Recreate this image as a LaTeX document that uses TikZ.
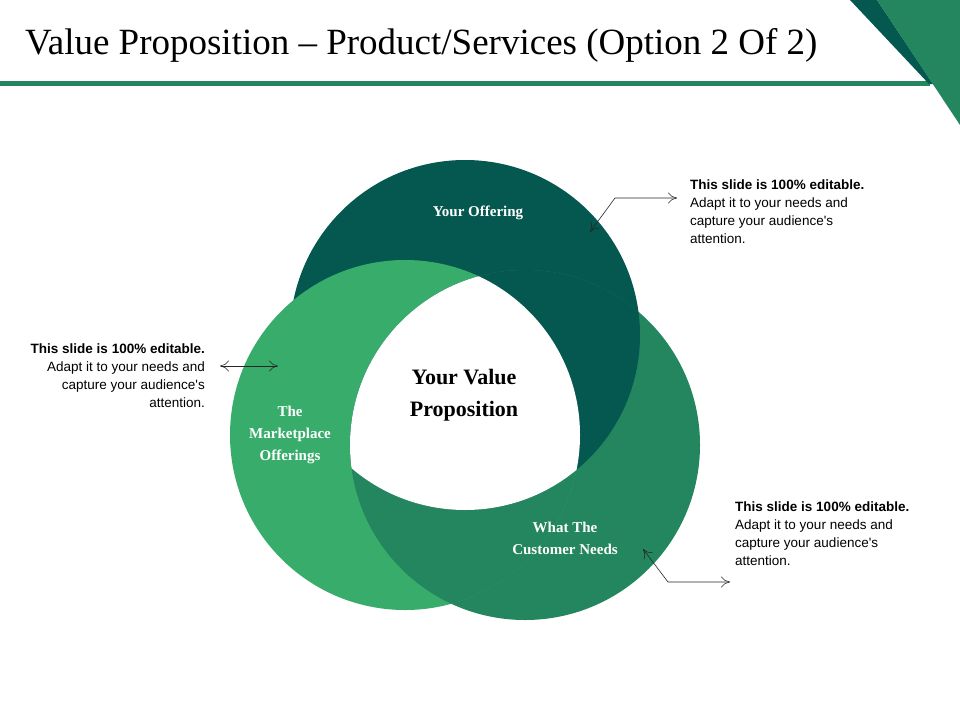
\documentclass[tikz,border=0pt]{standalone}
\usepackage{fontspec}
\setmainfont{Liberation Serif}
\newfontfamily\calloutfont{Liberation Sans}
\usetikzlibrary{arrows.meta}
\definecolor{ringdark}{RGB}{5,88,80}
\definecolor{ringmid}{RGB}{36,134,94}
\definecolor{ringlight}{RGB}{56,173,107}
\tikzset{
  ringlabel/.style={text=white,font=\bfseries\fontsize{15}{22}\selectfont,align=center},
  callout/.style={font=\calloutfont\fontsize{13.5}{18}\selectfont,inner sep=0pt},
  pointer/.style={gray!30!black,line width=0.6pt,{To[length=9pt,width=11pt]}-{To[length=9pt,width=11pt]}}
}
\begin{document}
\begin{tikzpicture}[x=1pt,y=-1pt]
		\useasboundingbox (0,0) rectangle (960,720);
		% Header
		\node[anchor=west,inner sep=0pt,font=\fontsize{37}{40}\selectfont] (title) at (25,45) {Value Proposition -- Product/Services (Option 2 Of 2)};
		\fill[ringmid] (0,81) rectangle (930,86);
		\fill[ringdark] (850,0) -- (877,0) -- (933,84) -- (929,84) -- cycle;
		\fill[ringmid] (877,0) -- (960,0) -- (960,125) -- cycle;
		% Rings
		\def\rr{175}
		\coordinate (cdark) at (465,335);
		\coordinate (clight) at (405,435);
		\coordinate (cmid) at (525,445);
		\fill[ringdark] (cdark) circle[radius=\rr];
		\fill[ringmid] (cmid) circle[radius=\rr];
		\fill[ringlight] (clight) circle[radius=\rr];
		\begin{scope}
			\clip (clight) circle[radius=\rr];
			\fill[ringmid] (cmid) circle[radius=\rr];
		\end{scope}
		\begin{scope}
			\clip (cmid) circle[radius=\rr];
			\fill[ringdark] (cdark) circle[radius=\rr];
		\end{scope}
		\begin{scope}
			\clip (cdark) circle[radius=\rr];
			\clip (clight) circle[radius=\rr];
			\fill[white] (cmid) circle[radius=\rr];
		\end{scope}
		% Labels
		\node[ringlabel] (offer) at (478,213) {Your Offering};
		\node[ringlabel] (market) at (290,435) {The\\Marketplace\\Offerings};
		\node[ringlabel] (needs) at (565,538) {What The\\Customer Needs};
		\node[font=\bfseries\fontsize{22}{32}\selectfont,align=center] (core) at (464,395) {Your Value\\Proposition};
		% Callouts
		\node[callout,anchor=north west,align=left] (txtright) at (690,180) {\textbf{This slide is 100\% editable.}\\Adapt it to your needs and\\capture your audience's\\attention.};
		\node[callout,anchor=north east,align=right] (txtleft) at (205,344) {\textbf{This slide is 100\% editable.}\\Adapt it to your needs and\\capture your audience's\\attention.};
		\node[callout,anchor=north west,align=left] (txtbottom) at (735,502) {\textbf{This slide is 100\% editable.}\\Adapt it to your needs and\\capture your audience's\\attention.};
		\coordinate (ptop) at (590,232);
		\coordinate (pleft) at (278,366);
		\coordinate (pbottom) at (643,549);
		\draw[pointer] (ptop) -- (615,198) -- (677,198);
		\draw[pointer] (220,366) -- (pleft);
		\draw[pointer] (pbottom) -- (668,582) -- (730,582);
\end{tikzpicture}
\end{document}
